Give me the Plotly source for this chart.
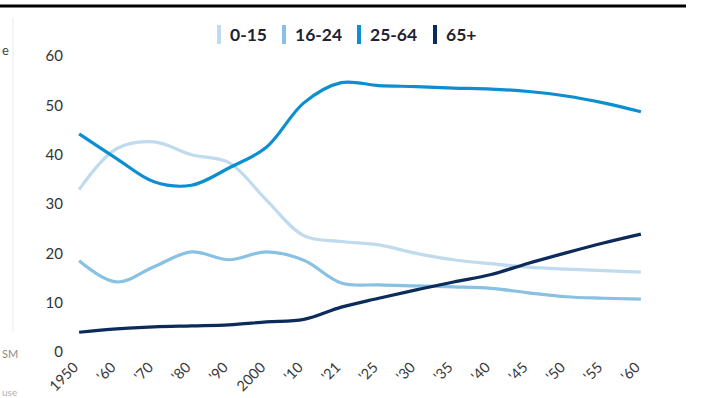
import plotly.graph_objects as go

# Age-group share of population (%), 1950 to 2060
years = ["1950", "1960", "1970", "1980", "1990", "2000", "2010", "2021",
         "2025", "2030", "2035", "2040", "2045", "2050", "2055", "2060"]
tick_labels = ["1950", "'60", "'70", "'80", "'90", "2000", "'10", "'21",
               "'25", "'30", "'35", "'40", "'45", "'50", "'55", "'60"]

age_0_15 = [32.9, 41.2, 42.6, 40.0, 38.4, 30.8, 23.6, 22.4, 21.7, 20.0, 18.7, 17.9, 17.2, 16.8, 16.5, 16.2]
age_16_24 = [18.5, 14.2, 17.3, 20.3, 18.7, 20.3, 18.6, 14.0, 13.6, 13.4, 13.2, 12.9, 12.0, 11.2, 10.9, 10.7]
age_25_64 = [44.2, 39.2, 34.5, 33.8, 37.3, 41.5, 50.5, 54.6, 54.0, 53.8, 53.5, 53.3, 52.8, 51.9, 50.5, 48.7]
age_65_plus = [4.0, 4.7, 5.1, 5.3, 5.5, 6.1, 6.6, 9.1, 10.9, 12.6, 14.2, 15.7, 18.0, 20.1, 22.1, 23.9]

series_names = ["0-15", "16-24", "25-64", "65+"]
series_values = [age_0_15, age_16_24, age_25_64, age_65_plus]
colors = ["#bfdbed", "#88c1e2", "#0b8fd0", "#0c2b5b"]

W, H = 706, 398
L, R, T, B = 78, 64, 56, 46
PW, PH = W - L - R, H - T - B


def px(x):
    return (x - L) / PW


def py(y):
    return (H - B - y) / PH


fig = go.Figure()
for name, vals, col in zip(series_names, series_values, colors):
    fig.add_trace(go.Scatter(
        x=years, y=vals, name=name, mode="lines",
        line=dict(color=col, width=3.2, shape="spline", smoothing=1.0),
        showlegend=False, hoverinfo="x+y+name",
    ))

shapes = []
annotations = []

# custom legend: vertical colour bar + bold label
legend_bar_x = [219, 284, 359, 435]
for name, col, bx in zip(series_names, colors, legend_bar_x):
    shapes.append(dict(type="line", xref="paper", yref="paper",
                       x0=px(bx), x1=px(bx), y0=py(25), y1=py(44),
                       line=dict(color=col, width=4)))
    annotations.append(dict(text=f"<b>{name}</b>", xref="paper", yref="paper",
                            x=px(bx + 9), y=py(35), xanchor="left", yanchor="middle",
                            showarrow=False,
                            font=dict(family="Lato", size=17.5, color="#1f2233")))

# page rule along the top and divider on the left
shapes.append(dict(type="line", xref="paper", yref="paper",
                   x0=px(0), x1=px(686), y0=py(6), y1=py(6),
                   line=dict(color="#000000", width=3)))
shapes.append(dict(type="line", xref="paper", yref="paper",
                   x0=px(13), x1=px(13), y0=py(18), y1=py(332),
                   line=dict(color="#ebebeb", width=1)))

# side-panel text fragments at the left edge
annotations.append(dict(text="e", xref="paper", yref="paper", x=px(0), y=py(50),
                        xanchor="left", yanchor="middle", showarrow=False,
                        font=dict(family="Lato", size=13, color="#444444")))
annotations.append(dict(text="SM", xref="paper", yref="paper", x=px(0), y=py(353),
                        xanchor="left", yanchor="middle", showarrow=False,
                        font=dict(family="Lato", size=11, color="#8a8a8a")))
annotations.append(dict(text="use", xref="paper", yref="paper", x=px(0), y=py(392),
                        xanchor="left", yanchor="middle", showarrow=False,
                        font=dict(family="Lato", size=10, color="#b0b0b0")))

fig.update_layout(
    width=W, height=H,
    margin=dict(l=L, r=R, t=T, b=B, pad=0, autoexpand=False),
    paper_bgcolor="white", plot_bgcolor="white",
    font=dict(family="Lato", color="#333333"),
    showlegend=False,
    shapes=shapes, annotations=annotations,
    xaxis=dict(
        type="category", categoryorder="array", categoryarray=years,
        tickmode="array", tickvals=years, ticktext=tick_labels,
        tickangle=-45, tickfont=dict(family="Lato", size=14.5, color="#3a3a3a"),
        showgrid=False, zeroline=False, showline=False, ticks="",
        ticklabelshift=-5, ticklabelstandoff=3,
        range=[-0.03, len(years) - 1 + 0.03], automargin=False,
    ),
    yaxis=dict(
        range=[0, 60], tickvals=[0, 10, 20, 30, 40, 50, 60],
        tickfont=dict(family="Lato", size=15, color="#333333"),
        showgrid=False, zeroline=False, showline=False, ticks="",
        ticklabelstandoff=14, automargin=False,
    ),
)

fig.write_html("out.html")
